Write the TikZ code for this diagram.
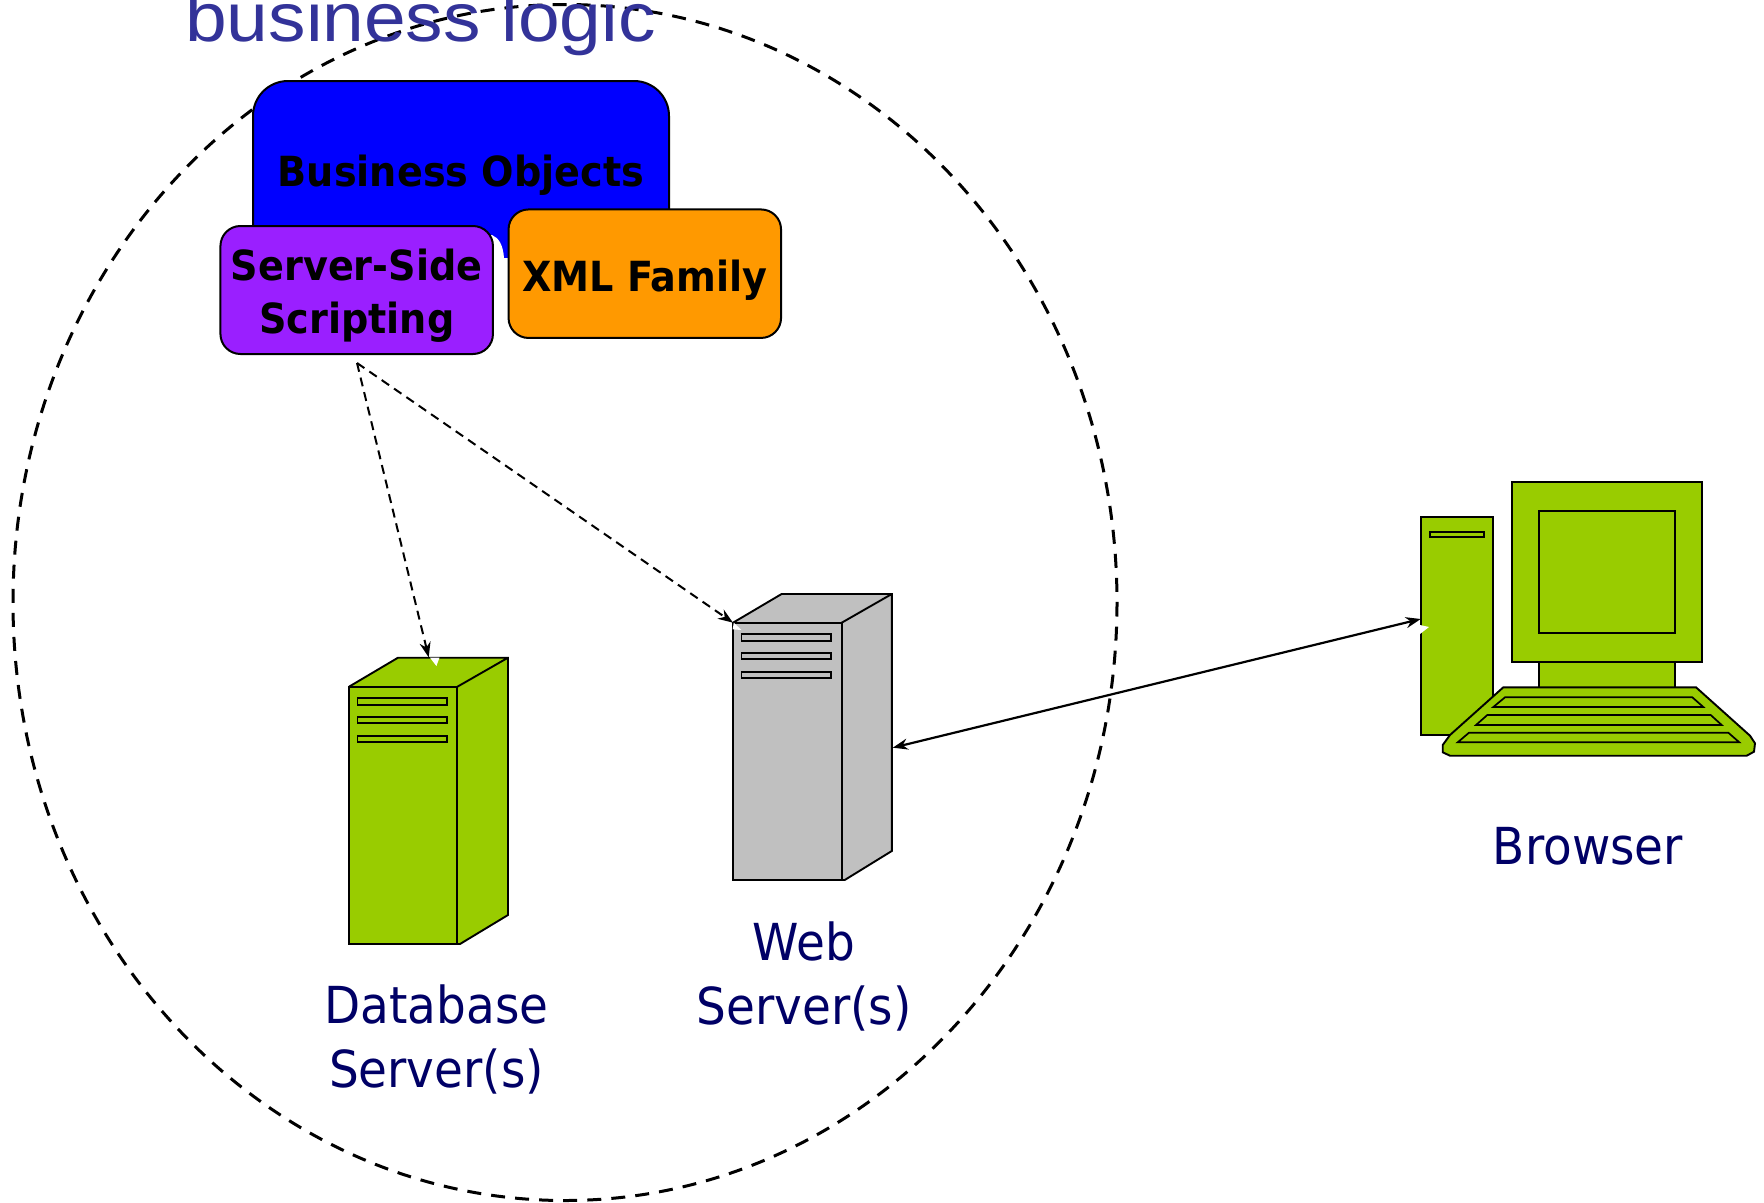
\documentclass[tikz,border=0pt]{standalone}
\usepackage{fontspec}
\setmainfont{Liberation Sans}
\newfontfamily\tah[FakeStretch=0.92]{DejaVu Sans}
\usetikzlibrary{arrows.meta,calc}
\definecolor{grn}{HTML}{99CC00}
\definecolor{gry}{HTML}{C0C0C0}
\definecolor{purp}{HTML}{9A1FFF}
\definecolor{orng}{HTML}{FF9900}
\definecolor{navy}{HTML}{000066}
\definecolor{ttl}{HTML}{333399}
\tikzset{
  x=1pt,y=-1pt,
  part/.style={draw=black,line width=1.9pt,line join=miter},
  slot/.style={draw=black,line width=1.7pt,fill=#1},
  card/.style={draw=black,line width=2pt,rounded corners=20pt,inner sep=0pt,outer sep=0pt},
  cardtext/.style={anchor=base,inner sep=0pt,font=\tah\bfseries\fontsize{41.5}{53}\selectfont},
  panel/.style={draw=black,line width=1.9pt,inner sep=0pt,outer sep=0pt,anchor=north west},
  lbl/.style={text=navy,font=\tah\fontsize{51}{63.5}\selectfont,align=center,anchor=base,inner sep=0pt},
  dashlink/.style={line width=2pt,dash pattern=on 9pt off 6pt,-{Stealth[length=15pt,width=11pt]}},
  solidlink/.style={line width=2.2pt,{Stealth[length=15pt,width=11pt]}-{Stealth[length=15pt,width=11pt]}},
  notch/.style={fill=white,draw=none}
}
\begin{document}
\begin{tikzpicture}
\useasboundingbox (0,0) rectangle (1764,1202);
% zone
\draw[line width=3pt,dash pattern=on 14pt off 10.095pt] (565,602.5) ellipse [x radius=552,y radius=598];
\node[anchor=base west,inner sep=0pt,text=ttl,xscale=1.086,font=\fontsize{69}{80}\selectfont] (title) at (185,41) {business logic};
% business objects
\fill[blue,rounded corners=35pt] (253,300) -- (253,81) -- (669,81) -- (669,300) -- cycle;
\fill[white] (240,258) rectangle (680,310);
\fill[white] (240,235) -- (492,235) .. controls (499,238) and (503,245) .. (504,258) -- (240,258) -- cycle;
\draw[line width=2pt,rounded corners=35pt] (253,235) -- (253,81) -- (669,81) -- (669,212);
\node[cardtext] (biz) at (461,186) {Business Objects};
% cards
\node[card,fill=purp,minimum width=272.5pt,minimum height=128pt] (script) at (356.7,290) {};
\node[cardtext] (scripta) at (356.7,280) {Server-Side};
\node[cardtext] (scriptb) at (356.7,333) {Scripting};
\node[card,fill=orng,minimum width=272.5pt,minimum height=128.5pt] (xml) at (644.8,273.7) {};
\node[cardtext] (xmltext) at (644.8,291) {XML Family};
% database server
\fill[grn] (349,686.7) -- (398,657.7) -- (508,657.7) -- (508,915) -- (460,944) -- (349,944) -- cycle;
\draw[part] (349,686.7) -- (398,657.7) -- (508,657.7) -- (508,915) -- (460,944) -- (457.4,944) (457.4,686.7) -- (508,657.7);
\node[panel,fill=grn,minimum width=108.4pt,minimum height=257.3pt] (dbfront) at (349,686.7) {};
\draw[slot=grn] (357.5,698) rectangle (447,704.7);
\draw[slot=grn] (357.5,717.3) rectangle (447,722.7);
\draw[slot=grn] (357.5,736.3) rectangle (447,742);
% web server
\fill[gry] (733,622.7) -- (781.6,594) -- (891.8,594) -- (891.8,851) -- (844.7,880) -- (733,880) -- cycle;
\draw[part] (733,622.7) -- (781.6,594) -- (891.8,594) -- (891.8,851) -- (844.7,880) -- (841.7,880) (841.7,622.7) -- (891.8,594);
\node[panel,fill=gry,minimum width=108.7pt,minimum height=257.3pt] (webfront) at (733,622.7) {};
\draw[slot=gry] (741.4,634) rectangle (831.3,641);
\draw[slot=gry] (741.4,653.3) rectangle (831.3,658.7);
\draw[slot=gry] (741.4,672.3) rectangle (831.3,678);
% browser computer
\node[panel,fill=grn,minimum width=72pt,minimum height=218pt] (tower) at (1420.7,517) {};
\draw[slot=grn] (1429.7,532.3) rectangle (1484,537.3);
\node[panel,fill=grn,minimum width=136.3pt,minimum height=30pt] (neck) at (1538.7,660) {};
\node[panel,fill=grn,minimum width=190pt,minimum height=180.3pt] (monitor) at (1511.7,482) {};
\node[panel,fill=grn,minimum width=136.3pt,minimum height=122pt] (screen) at (1538.7,511) {};
\filldraw[part,fill=grn] (1503.3,687.3) -- (1696,687.3) -- (1750,735.7) -- (1755,743.3) -- (1754,751.7) -- (1746.7,755.7) -- (1450,755.7) -- (1442.7,752.3) -- (1442.7,745) -- (1450,735) -- cycle;
\draw[slot=grn] (1505,697.3) -- (1692.3,697.3) -- (1703.3,707) -- (1493.3,707) -- cycle;
\draw[slot=grn] (1487.3,715) -- (1710.7,715) -- (1721.7,725) -- (1476,725) -- cycle;
\draw[slot=grn] (1469,732.7) -- (1728.3,732.7) -- (1739.3,742.3) -- (1457.7,742.3) -- cycle;
% notches
\fill[notch] (430,657.7) -- (439.5,657.7) -- (436.4,666) -- cycle;
\fill[notch] (733.8,622.7) -- (741.4,630) -- (732.6,629.3) -- cycle;
\fill[notch] (1420,625) -- (1429,627) -- (1420,634) -- cycle;
% connector ends
\coordinate (scriptout) at (357,363);
\coordinate (dbtop) at (428.7,657.3);
\coordinate (webside) at (892.8,747.7);
\coordinate (towerside) at (1420.7,619);
\draw[dashlink] (scriptout) -- (dbtop);
\draw[dashlink] (scriptout) -- (webfront.north west);
\draw[solidlink] (webside) -- (towerside);
% labels
\node[lbl] (dblabel) at (436.5,1087) {Database\\Server(s)};
\node[lbl] (weblabel) at (804,1024) {Web\\Server(s)};
\node[lbl] (brlabel) at (1588,864) {Browser};
\end{tikzpicture}
\end{document}
